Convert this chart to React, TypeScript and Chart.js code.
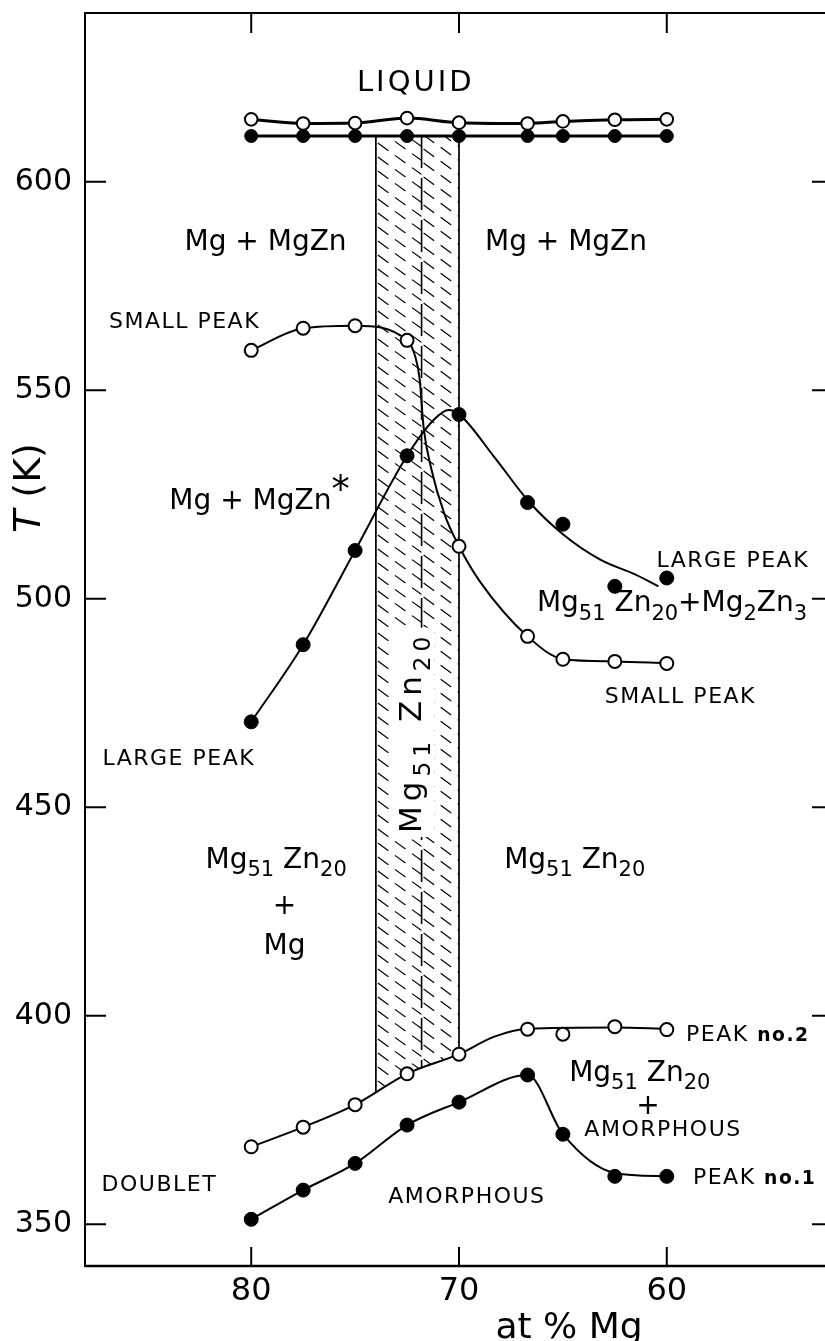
import React, { useEffect, useRef } from 'react';
import { Chart, registerables } from 'chart.js';

Chart.register(...registerables);

const FONT = '"DejaVu Sans", "Noto Sans", sans-serif';

// axes: composition (at % Mg, reversed) and temperature (K)
const xMin = 52;
const xMax = 88;
const yMin = 340;
const yMax = 640.5;
const xTicks = [80, 70, 60];
const yTicks = [350, 400, 450, 500, 550, 600];

// measured compositions
const comp = [80, 77.5, 75, 72.5, 70, 66.7, 65, 62.5, 60];

// liquidus / solidus
const liquidOpen = [615, 614, 614.1, 615.3, 614.2, 614, 614.5, 614.9, 615];
const liquidFilled = [611, 611, 611, 611, 611, 611, 611, 611, 611];

// small peak (open circles) and its drawn curve
const smallPeakPts = [559.6, 564.9, 565.5, 562, 512.6, 491, 485.5, 485, 484.5];
const smallPeakCurveX = [80, 77.5, 75, 72.5, 72.1, 71.9, 71.7, 71.35, 70.7, 70, 69, 66.7, 65, 62.5, 60];
const smallPeakCurveT = [559.6, 564.9, 565.5, 562, 558, 553, 541, 531.5, 520.3, 512.6, 504.2, 491, 485.6, 485, 484.6];

// large peak (filled circles) and its drawn curve
const largePeakPts = [470.5, 489, 511.6, 534.3, 544.2, 523.1, 517.9, 503, 505];
const largePeakCurveX = [80, 77.5, 75, 72.5, 71.2, 70.5, 70, 68.3, 66.6, 65, 63.2, 61.5, 60.4];
const largePeakCurveT = [470.5, 489, 511.6, 534.3, 543, 545.3, 544.3, 534, 523.1, 515.5, 509.4, 505.8, 503];

// crystallisation peak no.2 (open) and no.1 (filled)
const peak2Pts = [368.6, 373.3, 378.7, 386.1, 390.8, 396.8, 395.6, 397.4, 396.7];
const peak2CurveX = [80, 77.5, 75, 72.5, 70, 68.3, 66.7, 62.5, 60];
const peak2CurveT = [368.6, 373.3, 378.7, 386.1, 390.8, 395, 396.9, 397.2, 396.9];
const peak1Pts = [351.2, 358.2, 364.6, 373.8, 379.3, 385.8, 371.6, 361.5, 361.5];
const peak1CurveX = [80, 77.5, 75, 72.5, 70, 66.7, 65, 62.5, 60];
const peak1CurveT = [351.2, 358.2, 364.6, 373.8, 379.3, 385.8, 371.6, 362.3, 361.5];

// Mg51Zn20 single-phase band
const bandEdgeX = [74, 72.5, 71.8, 70];
const bandEdgeT = [381.6, 386.1, 387.4, 390.8];
const bandTopT = 611;
const stoichX = 71.8;

type Part = { t: string; s?: number; dy?: number; bold?: boolean; italic?: boolean };
type Label = {
  x: number;
  y: number;
  size: number;
  parts: Part[];
  align?: 'left' | 'center';
  ls?: number;
  vertical?: boolean;
  clear?: boolean;
};

const sub = (t: string): Part => ({ t, s: 0.75, dy: 0.3 });
const mg51zn20 = (): Part[] => [{ t: 'Mg' }, sub('51'), { t: ' Zn' }, sub('20')];

const annotations: Label[] = [
  { x: 72.08, y: 624.3, size: 29, ls: 3, parts: [{ t: 'LIQUID' }] },
  { x: 79.31, y: 586.1, size: 28, parts: [{ t: 'Mg + MgZn' }] },
  { x: 64.85, y: 586.1, size: 28, parts: [{ t: 'Mg + MgZn' }] },
  { x: 83.21, y: 567.0, size: 22, ls: 1.5, parts: [{ t: 'SMALL PEAK' }] },
  { x: 83.94, y: 524.1, size: 28, align: 'left', parts: [{ t: 'Mg + MgZn' }, { t: '*', s: 1.3, dy: -0.25 }] },
  { x: 60.5, y: 509.5, size: 22, ls: 1.5, align: 'left', parts: [{ t: 'LARGE PEAK' }] },
  {
    x: 66.25, y: 499.5, size: 28, align: 'left',
    parts: [{ t: 'Mg' }, sub('51'), { t: ' Zn' }, sub('20'), { t: '+Mg' }, sub('2'), { t: 'Zn' }, sub('3')],
  },
  { x: 62.98, y: 477, size: 22, ls: 1.5, align: 'left', parts: [{ t: 'SMALL PEAK' }] },
  { x: 87.16, y: 462, size: 22, ls: 1.5, align: 'left', parts: [{ t: 'LARGE PEAK' }] },
  { x: 72.37, y: 468, size: 31, ls: 5, vertical: true, clear: true, parts: mg51zn20() },
  { x: 78.8, y: 438, size: 28, parts: mg51zn20() },
  { x: 78.4, y: 426.9, size: 28, parts: [{ t: '+' }] },
  { x: 78.4, y: 417.3, size: 28, parts: [{ t: 'Mg' }] },
  { x: 64.43, y: 438, size: 28, parts: mg51zn20() },
  { x: 59.07, y: 396, size: 22, ls: 1.5, align: 'left', parts: [{ t: 'PEAK ' }, { t: 'no.2', bold: true, s: 0.85 }] },
  { x: 61.3, y: 386.9, size: 28, parts: mg51zn20() },
  { x: 60.9, y: 379, size: 28, parts: [{ t: '+' }] },
  { x: 60.18, y: 373, size: 22, ls: 1.5, parts: [{ t: 'AMORPHOUS' }] },
  { x: 58.74, y: 361.7, size: 22, ls: 1.5, align: 'left', parts: [{ t: 'PEAK ' }, { t: 'no.1', bold: true, s: 0.85 }] },
  { x: 84.42, y: 359.8, size: 22, ls: 1.5, parts: [{ t: 'DOUBLET' }] },
  { x: 69.62, y: 357.0, size: 22, ls: 1.5, parts: [{ t: 'AMORPHOUS' }] },
];

function drawLabel(ctx: CanvasRenderingContext2D, lab: Label, px: number, py: number) {
  const base = lab.size;
  const c: any = ctx;
  c.letterSpacing = `${lab.ls ?? 0}px`;
  const segs = lab.parts.map((p) => {
    const size = base * (p.s ?? 1);
    const font = `${p.italic ? 'italic ' : ''}${p.bold ? 'bold ' : ''}${size}px ${FONT}`;
    ctx.font = font;
    return { t: p.t, font, w: ctx.measureText(p.t).width, dy: (p.dy ?? 0) * base };
  });
  const total = segs.reduce((a, s) => a + s.w, 0);
  ctx.save();
  ctx.translate(px, py);
  if (lab.vertical) ctx.rotate(-Math.PI / 2);
  let x0 = lab.align === 'left' ? 0 : -total / 2;
  const baseY = 0.365 * base;
  if (lab.clear) {
    ctx.fillStyle = '#fff';
    ctx.fillRect(x0 - 4, -0.365 * base - 5, total + 8, base * 1.05 + 8);
  }
  ctx.fillStyle = '#000';
  ctx.textAlign = 'left';
  ctx.textBaseline = 'alphabetic';
  for (const s of segs) {
    ctx.font = s.font;
    ctx.fillText(s.t, x0, baseY + s.dy);
    x0 += s.w;
  }
  ctx.restore();
  c.letterSpacing = '0px';
}

function hatchColumn(ctx: CanvasRenderingContext2D, L: number, R: number, T: number, B: number) {
  const k = 0.72;
  ctx.save();
  ctx.beginPath();
  ctx.rect(L, T, R - L, B - T);
  ctx.clip();
  for (let c0 = T - (R - L) * k - 30; c0 < B + 30; c0 += 14) {
    ctx.beginPath();
    ctx.moveTo(L + 2, c0);
    ctx.lineTo(R, c0 + (R - L - 2) * k);
    ctx.stroke();
  }
  ctx.restore();
}

const decorPlugin = {
  id: 'decor',
  beforeDatasetsDraw(chart: any) {
    const { ctx, scales } = chart;
    const xs = scales.x;
    const ys = scales.y;
    const px = (v: number) => xs.getPixelForValue(v);
    const py = (v: number) => ys.getPixelForValue(v);
    const last = bandEdgeX.length - 1;
    ctx.save();
    ctx.beginPath();
    ctx.moveTo(px(bandEdgeX[0]), py(bandTopT));
    ctx.lineTo(px(bandEdgeX[last]), py(bandTopT));
    for (let i = last; i >= 0; i--) ctx.lineTo(px(bandEdgeX[i]), py(bandEdgeT[i]));
    ctx.closePath();
    ctx.save();
    ctx.clip();
    const L = px(bandEdgeX[0]);
    const M = px(stoichX);
    const R = px(bandEdgeX[last]);
    const T = py(bandTopT);
    const B = py(bandEdgeT[0]) + 5;
    ctx.strokeStyle = '#000';
    ctx.lineWidth = 1.2;
    ctx.setLineDash([13, 8]);
    hatchColumn(ctx, L, M, T, B);
    hatchColumn(ctx, M, R, T, B);
    ctx.restore();
    // band edges
    ctx.strokeStyle = '#000';
    ctx.lineWidth = 1.7;
    ctx.setLineDash([]);
    ctx.beginPath();
    ctx.moveTo(px(bandEdgeX[0]), py(bandTopT));
    ctx.lineTo(px(bandEdgeX[0]), py(bandEdgeT[0]));
    ctx.moveTo(px(bandEdgeX[last]), py(bandTopT));
    ctx.lineTo(px(bandEdgeX[last]), py(bandEdgeT[last]));
    ctx.stroke();
    // stoichiometric composition (dashed)
    const si = bandEdgeX.indexOf(stoichX);
    ctx.lineWidth = 1.6;
    ctx.setLineDash([32, 10]);
    ctx.beginPath();
    ctx.moveTo(px(stoichX), py(bandTopT));
    ctx.lineTo(px(stoichX), py(bandEdgeT[si]));
    ctx.stroke();
    ctx.restore();
  },
  afterDatasetsDraw(chart: any) {
    const { ctx, chartArea: a, scales } = chart;
    const xs = scales.x;
    const ys = scales.y;
    ctx.save();
    // labels
    for (const lab of annotations) {
      drawLabel(ctx, lab, xs.getPixelForValue(lab.x), ys.getPixelForValue(lab.y));
    }
    // frame
    ctx.strokeStyle = '#000';
    ctx.lineWidth = 2;
    ctx.setLineDash([]);
    ctx.strokeRect(a.left, a.top, a.right - a.left, a.bottom - a.top);
    ctx.lineWidth = 2.5;
    ctx.beginPath();
    ctx.moveTo(a.left, a.bottom);
    ctx.lineTo(a.right, a.bottom);
    ctx.stroke();
    ctx.lineWidth = 2;
    ctx.beginPath();
    for (const t of yTicks) {
      const y = ys.getPixelForValue(t);
      ctx.moveTo(a.left, y);
      ctx.lineTo(a.left + 21, y);
      ctx.moveTo(a.right - 21, y);
      ctx.lineTo(a.right, y);
    }
    for (const t of xTicks) {
      const x = xs.getPixelForValue(t);
      ctx.moveTo(x, a.bottom);
      ctx.lineTo(x, a.bottom - 19);
      ctx.moveTo(x, a.top);
      ctx.lineTo(x, a.top + 20);
    }
    ctx.stroke();
    // axis titles
    drawLabel(ctx, { x: 0, y: 0, size: 38, vertical: true, parts: [{ t: 'T', italic: true }, { t: ' (K)' }] }, 26, 488);
    drawLabel(ctx, { x: 0, y: 0, size: 36, parts: [{ t: 'at % Mg' }] }, 569, 1325);
    ctx.restore();
  },
};

const toXY = (xs: number[], ys: number[]) => xs.map((x, i) => ({ x, y: ys[i] }));

export default function App() {
  const ref = useRef<HTMLCanvasElement>(null);
  useEffect(() => {
    if (!ref.current) return;
    const openPt = {
      pointStyle: 'circle',
      pointBackgroundColor: '#fff',
      pointBorderColor: '#000',
      pointBorderWidth: 2,
      pointRadius: 6.5,
      showLine: false,
      order: 0,
    };
    const filledPt = {
      pointStyle: 'circle',
      pointBackgroundColor: '#000',
      pointBorderColor: '#000',
      pointBorderWidth: 1,
      pointRadius: 7,
      showLine: false,
      order: 0,
    };
    const curve = {
      showLine: true,
      pointRadius: 0,
      borderColor: '#000',
      borderWidth: 2,
      cubicInterpolationMode: 'monotone',
      order: 1,
    };
    const chart = new Chart(ref.current, {
      type: 'scatter',
      data: {
        datasets: [
          { label: 'liquid open', data: toXY(comp, liquidOpen), ...openPt, pointRadius: 6.3, showLine: true, borderColor: '#000', borderWidth: 3, cubicInterpolationMode: 'monotone' } as any,
          { label: 'liquid filled', data: toXY(comp, liquidFilled), ...filledPt, pointRadius: 6.5, showLine: true, borderColor: '#000', borderWidth: 3, order: 1 } as any,
          { label: 'small peak', data: toXY(comp, smallPeakPts), ...openPt } as any,
          { label: 'small peak curve', data: toXY(smallPeakCurveX, smallPeakCurveT), ...curve } as any,
          { label: 'large peak', data: toXY(comp, largePeakPts), ...filledPt } as any,
          { label: 'large peak curve', data: toXY(largePeakCurveX, largePeakCurveT), ...curve } as any,
          { label: 'peak no.2', data: toXY(comp, peak2Pts), ...openPt } as any,
          { label: 'peak no.2 curve', data: toXY(peak2CurveX, peak2CurveT), ...curve } as any,
          { label: 'peak no.1', data: toXY(comp, peak1Pts), ...filledPt } as any,
          { label: 'peak no.1 curve', data: toXY(peak1CurveX, peak1CurveT), ...curve } as any,
        ],
      },
      options: {
        responsive: false,
        animation: false,
        devicePixelRatio: 1,
        layout: { padding: { top: 13, right: 17, left: 0, bottom: 0 } },
        plugins: { legend: { display: false }, tooltip: { enabled: false } },
        scales: {
          x: {
            type: 'linear',
            min: xMin,
            max: xMax,
            reverse: true,
            afterBuildTicks: (s: any) => {
              s.ticks = xTicks.map((v) => ({ value: v }));
            },
            afterFit: (s: any) => {
              s.height = 75;
              s.paddingLeft = 0;
              s.paddingRight = 0;
            },
            grid: { display: false, drawTicks: false },
            border: { display: false },
            ticks: { color: '#000', font: { family: FONT, size: 32 }, padding: 6, maxRotation: 0, autoSkip: false },
          },
          y: {
            type: 'linear',
            min: yMin,
            max: yMax,
            afterBuildTicks: (s: any) => {
              s.ticks = yTicks.map((v) => ({ value: v }));
            },
            afterFit: (s: any) => {
              s.width = 85;
              s.paddingTop = 0;
              s.paddingBottom = 0;
            },
            grid: { display: false, drawTicks: false },
            border: { display: false },
            ticks: { color: '#000', font: { family: FONT, size: 30 }, padding: 13, autoSkip: false },
          },
        },
      } as any,
      plugins: [decorPlugin],
    });
    return () => chart.destroy();
  }, []);
  return (
    <div style={{ position: 'absolute', left: 0, top: 0, width: 825, height: 1341, overflow: 'hidden', background: '#fff' }}>
      <canvas ref={ref} width={850} height={1341} style={{ display: 'block' }} />
    </div>
  );
}
